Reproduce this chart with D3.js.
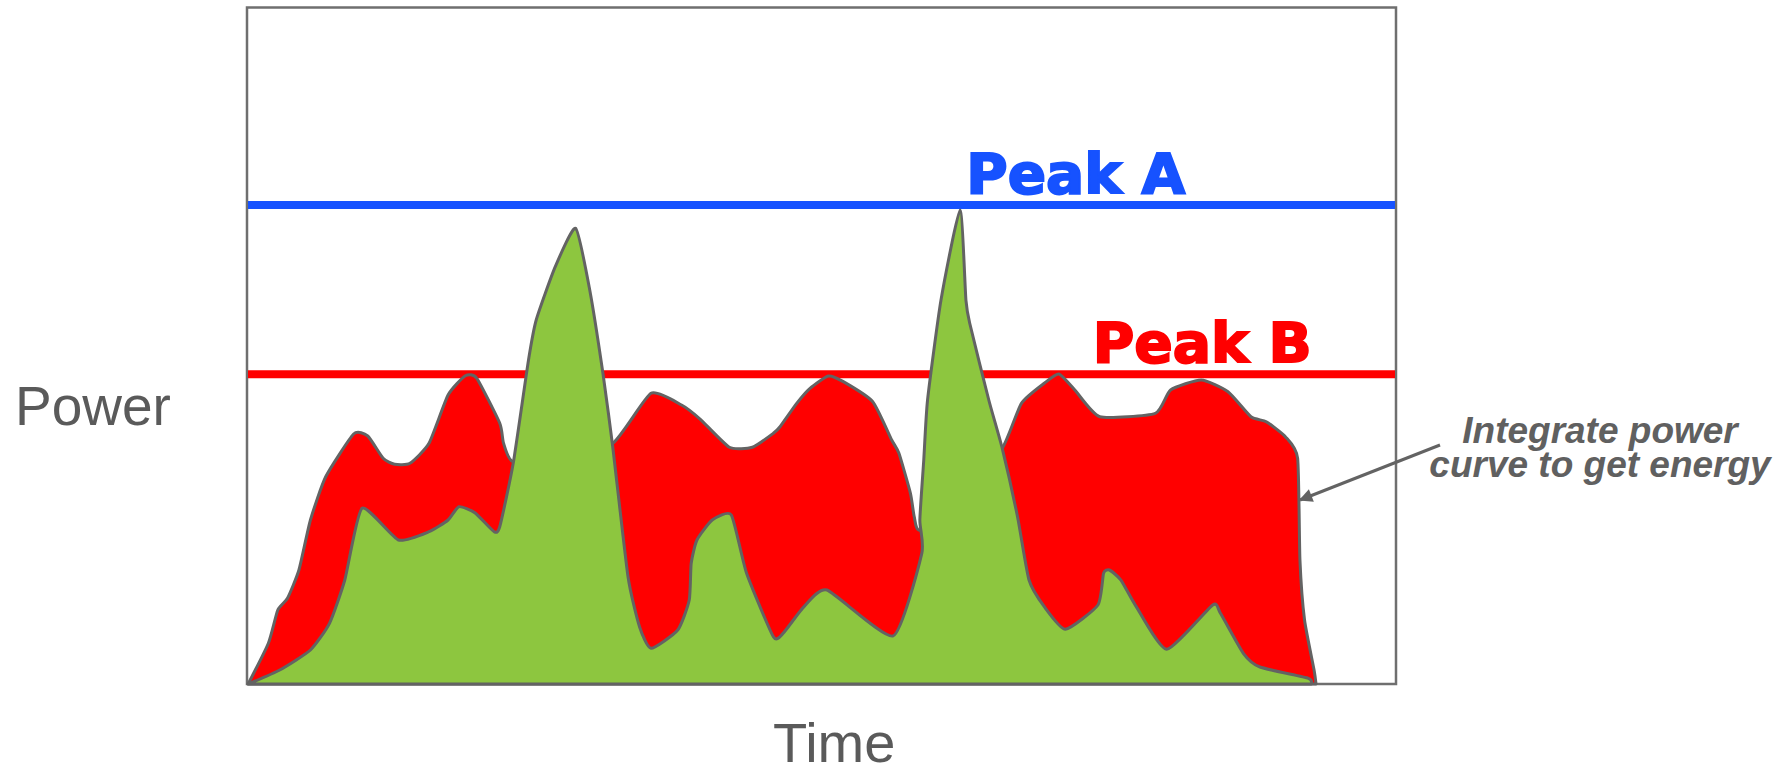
<!DOCTYPE html>
<html><head><meta charset="utf-8">
<script src="https://cdn.jsdelivr.net/npm/d3@7"></script>
<style>html,body{margin:0;padding:0;background:#fff;}svg{display:block;}</style>
</head><body>
<svg id="chart" width="1781" height="767"></svg>
<script>
// ---- data (time 0-100, power 0-100, arbitrary units) ----
const redCurve = [
 [0.1,0],[1.86,6.02],[2.68,10.94],[3.52,12.67],[4.52,16.85],[5.52,24.24],[6.85,30.64],
 [9.28,36.95],[10.51,36.66],[11.85,33.36],[12.85,32.48],[14.18,32.62],[15.84,35.58],
 [17.5,42.72],[19.01,45.57],[20.0,45.19],[22.0,38.54],[22.33,35.58],[23.17,32.86],
 [27.24,33.85],[31.83,35.58],[35.16,42.97],[37.82,41.24],[39.43,39.17],[41.98,35.0],
 [43.99,35.0],[45.81,37.06],[46.39,38.03],[47.84,41.49],[49.0,43.71],[50.59,45.53],
 [51.9,44.69],[54.46,41.73],[56.11,36.07],[56.74,34.1],[57.74,28.19],[58.07,24.73],
 [58.57,22.76],[62.05,27.2],[65.73,34.84],[67.4,41.49],[69.39,44.45],[70.66,45.82],
 [72.05,43.46],[74.22,39.51],[79.05,40.01],[80.38,43.46],[83.05,44.94],[85.38,43.21],
 [87.38,39.51],[88.71,38.77],[90.37,36.56],[91.44,33.36],[91.64,18.33],[92.04,9.46],
 [92.87,2.07],[93.04,0]
];
const greenCurve = [
 [0.1,0],[2.85,2.07],[5.52,5.03],[7.18,8.97],[8.51,15.37],[10.01,25.97],[13.18,21.29],
 [15.84,22.51],[17.5,24.24],[18.44,26.21],[19.83,25.32],[21.51,22.51],[22.0,23.25],
 [23.17,32.62],[24.5,47.89],[25.17,53.81],[26.83,61.69],[28.6,67.36],[29.83,58.24],
 [30.99,45.78],[31.83,35.08],[33.16,15.86],[34.16,8.47],[35.16,5.28],[37.49,7.98],
 [38.49,12.42],[38.66,17.84],[39.16,21.29],[40.49,24.24],[42.15,24.98],[43.48,16.36],
 [45.81,6.99],[46.65,7.48],[48.48,11.43],[50.48,13.89],[56.23,7.1],[58.73,19.32],
 [58.56,24.24],[58.9,33.11],[59.23,41.98],[60.4,56.76],[62.06,70.07],[62.57,56.76],
 [62.9,53.32],[64.56,41.98],[65.73,34.84],[67.06,24.73],[68.06,15.37],[69.39,11.43],
 [71.23,8.09],[74.06,11.68],[74.55,16.36],[75.06,16.85],[76.06,15.37],[77.39,11.43],
 [80.05,5.13],[84.05,11.68],[84.72,10.45],[86.71,4.54],[88.16,2.51],[92.37,0.84],[92.63,0]
];
const peakLabels = ["Peak A", "Peak B"];
const peakLevels = [70.8, 45.8];
const peakLabelTime = [62.6, 73.6];
const xTitle = "Time";
const yTitle = "Power";
const noteLines = ["Integrate power", "curve to get energy"];
const noteTarget = [91.65, 27.2];

// ---- layout ----
const svg = d3.select("#chart");
const mLeft = 247, mRight = 1396, mTop = 7.5, mBottom = 684;
const x = d3.scaleLinear().domain([0, 100]).range([mLeft, mRight]);
const y = d3.scaleLinear().domain([0, 100]).range([mBottom, mTop]);
const gray = "#636363";

// frame
svg.append("rect").attr("x", mLeft).attr("y", mTop)
  .attr("width", mRight - mLeft).attr("height", mBottom - mTop)
  .attr("fill", "#fff").attr("stroke", "#6f6f6f").attr("stroke-width", 2.5);

// peak lines
const peakColors = ["#1652ff", "#ff0000"];
peakLevels.forEach((v, i) => {
  svg.append("line").attr("x1", mLeft + 1).attr("x2", mRight - 1)
    .attr("y1", y(v)).attr("y2", y(v))
    .attr("stroke", peakColors[i]).attr("stroke-width", 8);
  svg.append("text").attr("x", x(peakLabelTime[i])).attr("y", y(v) - 12)
    .attr("font-family", "'DejaVu Sans', sans-serif").attr("font-weight", "bold")
    .attr("font-size", 56).attr("fill", peakColors[i])
    .attr("stroke", peakColors[i]).attr("stroke-width", 2)
    .attr("textLength", 219).attr("lengthAdjust", "spacingAndGlyphs")
    .text(peakLabels[i]);
});

// areas
const line = d3.line().x(d => x(d[0])).y(d => y(d[1])).curve(d3.curveCardinal.tension(0.45));
function areaPath(pts) {
  const last = pts[pts.length - 1], first = pts[0];
  return line(pts) + "L" + x(last[0]) + "," + y(0) + "L" + x(first[0]) + "," + y(0) + "Z";
}
svg.append("path").attr("d", areaPath(redCurve))
  .attr("fill", "#ff0000").attr("stroke", gray).attr("stroke-width", 3)
  .attr("stroke-linejoin", "round");
svg.append("path").attr("d", areaPath(greenCurve))
  .attr("fill", "#8dc63f").attr("stroke", gray).attr("stroke-width", 3)
  .attr("stroke-linejoin", "round");

// axis titles
svg.append("text").attr("x", 15).attr("y", 425)
  .attr("font-family", "'Liberation Sans', Arial, sans-serif").attr("font-size", 55)
  .attr("fill", "#5a5a5a").text(yTitle);
svg.append("text").attr("x", 773).attr("y", 762)
  .attr("font-family", "'Liberation Sans', Arial, sans-serif").attr("font-size", 56)
  .attr("fill", "#5a5a5a").text(xTitle);

// annotation
const defs = svg.append("defs");
defs.append("marker").attr("id", "ah").attr("viewBox", "0 0 10 10")
  .attr("refX", 9).attr("refY", 5).attr("markerWidth", 5).attr("markerHeight", 4.5)
  .attr("orient", "auto").attr("markerUnits", "strokeWidth")
  .append("path").attr("d", "M0,0 L10,5 L0,10 Z").attr("fill", gray);
svg.append("line").attr("x1", 1440).attr("y1", 445)
  .attr("x2", x(noteTarget[0])).attr("y2", y(noteTarget[1]))
  .attr("stroke", gray).attr("stroke-width", 3).attr("marker-end", "url(#ah)");
const note = svg.append("text").attr("x", 1600).attr("y", 443)
  .attr("text-anchor", "middle")
  .attr("font-family", "'Liberation Sans', Arial, sans-serif")
  .attr("font-weight", "bold").attr("font-style", "italic").attr("font-size", 37)
  .attr("fill", "#606060");
noteLines.forEach((t, i) => {
  note.append("tspan").attr("x", 1600).attr("dy", i === 0 ? 0 : 34).text(t);
});
</script>
</body></html>
